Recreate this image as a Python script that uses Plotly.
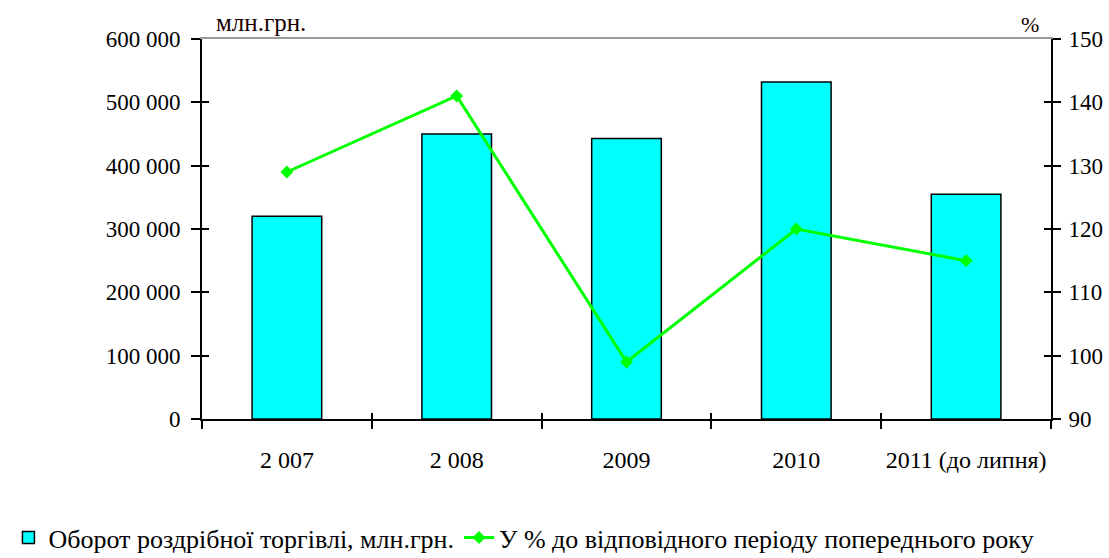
import plotly.graph_objects as go

years = ["2 007", "2 008", "2009", "2010", "2011 (до липня)"]
turnover = [320000, 450000, 443000, 532000, 355000]
pct = [129, 141, 99, 120, 115]

y_ticks = [0, 100000, 200000, 300000, 400000, 500000, 600000]
y2_ticks = [90, 100, 110, 120, 130, 140, 150]

FONT = "Times New Roman, Liberation Serif, serif"

fig = go.Figure()
fig.add_trace(go.Bar(
    x=years, y=turnover, name="Оборот роздрібної торгівлі, млн.грн.",
    marker=dict(color="#00FFFF", line=dict(color="black", width=1.5)),
    xaxis="x", yaxis="y",
))
fig.add_trace(go.Scatter(
    x=years, y=pct, name="У % до відповідного періоду попереднього року",
    mode="lines+markers",
    line=dict(color="#00FF00", width=3),
    marker=dict(symbol="diamond", size=10, color="#00FF00"),
    xaxis="x2", yaxis="y2",
))
# empty helper traces so that the decorative overlay axes are drawn
for xa, ya in [("x3", "y"), ("x", "y3"), ("x", "y4")]:
    fig.add_trace(go.Scatter(x=[], y=[], xaxis=xa, yaxis=ya,
                             showlegend=False, hoverinfo="skip"))

tick_font = dict(family=FONT, size=23, color="black")

fig.update_layout(
    width=1109, height=558,
    margin=dict(l=202, r=58, t=39, b=139, autoexpand=False),
    paper_bgcolor="white", plot_bgcolor="white",
    separators=", ",
    font=tick_font,
    bargap=0.59,
    showlegend=True,
    legend=dict(
        orientation="h", xref="paper", yref="paper",
        x=-0.228, y=-0.312, xanchor="left", yanchor="middle",
        font=dict(family=FONT, size=26, color="black"),
        itemwidth=30, tracegroupgap=0,
    ),
    xaxis=dict(
        type="category", range=[-0.5, 4.5],
        showline=True, linecolor="black", linewidth=2,
        ticks="outside", ticklen=8, tickwidth=1.5, tickcolor="black",
        tickson="boundaries", showgrid=False, zeroline=False, tickangle=0,
        ticklabelstandoff=18, tickfont=dict(family=FONT, size=24, color="black"),
    ),
    xaxis2=dict(
        type="category", range=[-0.5, 4.5], overlaying="x", anchor="y",
        side="bottom",
        showline=False, ticks="inside", ticklen=6, tickwidth=1.5, tickcolor="black",
        tickson="boundaries", showgrid=False, zeroline=False, showticklabels=False,
    ),
    xaxis3=dict(
        range=[0, 1], overlaying="x", anchor="y", side="top",
        showline=True, linecolor="#999999", linewidth=1.5,
        ticks="", showticklabels=False, showgrid=False, zeroline=False,
    ),
    yaxis=dict(
        range=[0, 600000], tickvals=y_ticks, tickformat=",d",
        showline=True, linecolor="black", linewidth=2,
        ticks="outside", ticklen=9, tickwidth=1.5, tickcolor="black",
        showgrid=False, zeroline=False, ticklabelstandoff=6, tickfont=tick_font,
    ),
    yaxis3=dict(
        range=[0, 600000], tickvals=y_ticks, overlaying="y", anchor="x", side="left",
        showline=False, ticks="inside", ticklen=7, tickwidth=1.5, tickcolor="black",
        showgrid=False, zeroline=False, showticklabels=False,
    ),
    yaxis2=dict(
        range=[90, 150], tickvals=y2_ticks, overlaying="y", anchor="x", side="right",
        showline=True, linecolor="black", linewidth=2,
        ticks="outside", ticklen=8, tickwidth=1.5, tickcolor="black",
        showgrid=False, zeroline=False, ticklabelstandoff=3, tickfont=tick_font,
    ),
    yaxis4=dict(
        range=[90, 150], tickvals=y2_ticks, overlaying="y", anchor="x", side="right",
        showline=False, ticks="inside", ticklen=7, tickwidth=1.5, tickcolor="black",
        showgrid=False, zeroline=False, showticklabels=False,
    ),
    annotations=[
        dict(text="млн.грн.", xref="paper", yref="paper", x=0.014, y=1.0,
             xanchor="left", yanchor="bottom", showarrow=False, yshift=1,
             font=dict(family=FONT, size=25, color="#1a0000")),
        dict(text="%", xref="paper", yref="paper", x=1.0, y=1.0,
             xanchor="right", yanchor="bottom", showarrow=False, xshift=-10, yshift=0,
             font=dict(family=FONT, size=22, color="#1a0000")),
    ],
)

fig.write_html("out.html", config={"displayModeBar": False},
               post_script="document.body.style.margin='0px';")
